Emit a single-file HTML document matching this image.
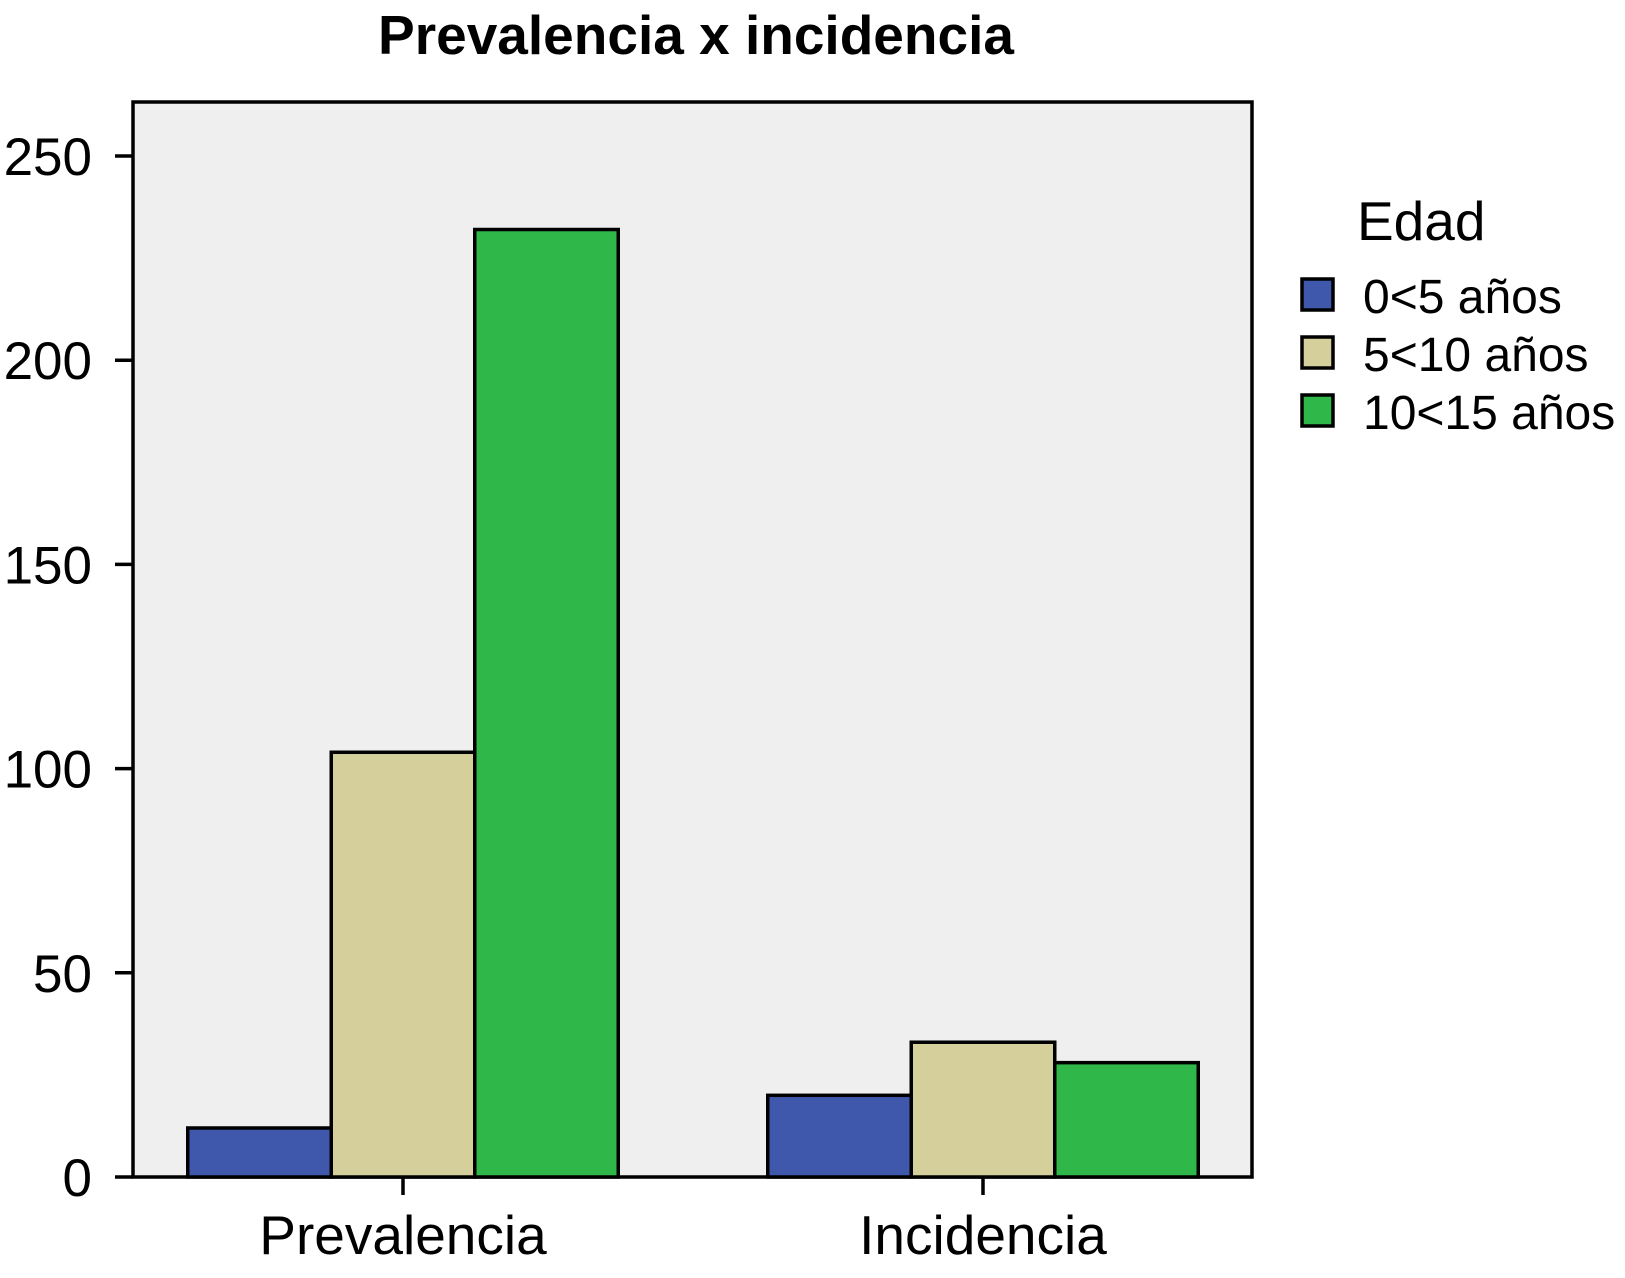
<!DOCTYPE html>
<html><head><meta charset="utf-8"><style>body{margin:0;background:#fff}svg{display:block;font-family:"Liberation Sans",sans-serif}</style></head>
<body>
<svg id="chart" width="1625" height="1278">
<text x="696" y="54" text-anchor="middle" font-size="55" font-weight="bold">Prevalencia x incidencia</text>
<rect x="133" y="102" width="1119" height="1075" fill="#efefef" stroke="#000" stroke-width="3.5"/>
<g id="bars"></g><g id="yaxis"></g><g id="xaxis"></g>
<g>
<text x="1357" y="240" font-size="55">Edad</text>
<g id="legend"></g>
</g>
</svg>
<script>
const categories=["Prevalencia","Incidencia"];
const seriesNames=["0<5 años","5<10 años","10<15 años"];
const series0=[12,20];
const series1=[104,33];
const series2=[232,28];
const yTicks=[0,50,100,150,200,250];
const colors=["#3f58ab","#d4cf9b","#30b749"];
const ns="http://www.w3.org/2000/svg";
const X0=133,Y0=1177,Y250=156;
const y=v=>Y0-(Y0-Y250)*v/250;
const catCenters=[403,983],bw=143.5;
function el(t,a,p){const e=document.createElementNS(ns,t);for(const k in a)e.setAttribute(k,a[k]);p.appendChild(e);return e;}
const bars=document.getElementById('bars');
[series0,series1,series2].forEach((s,si)=>{s.forEach((v,ci)=>{
const x=catCenters[ci]+(si-1.5)*bw;
const r=el('rect',{x:x,y:y(v),width:bw,height:Y0-y(v),fill:colors[si],stroke:'#000','stroke-width':3.5},bars);


});});
const ya=document.getElementById('yaxis');
yTicks.forEach(t=>{
const l=el('line',{x1:115,x2:X0,y1:y(t),y2:y(t),stroke:'#000','stroke-width':3.5},ya);


const tx=el('text',{x:92,y:y(t)+19,'text-anchor':'end','font-size':53},ya);
tx.textContent=t;


});
const xa=document.getElementById('xaxis');
categories.forEach((c,i)=>{
const l=el('line',{x1:catCenters[i],x2:catCenters[i],y1:Y0,y2:Y0+18,stroke:'#000','stroke-width':3.5},xa);


const tx=el('text',{x:catCenters[i],y:1254,'text-anchor':'middle','font-size':55},xa);
tx.textContent=c;


});
const lg=document.getElementById('legend');
seriesNames.forEach((n,i)=>{
const r=el('rect',{x:1302,y:279+i*58,width:31,height:31,fill:colors[i],stroke:'#000','stroke-width':3.5},lg);


const tx=el('text',{x:1363,y:313+i*58,'font-size':48},lg);
tx.textContent=n;


});
</script>
</body></html>
